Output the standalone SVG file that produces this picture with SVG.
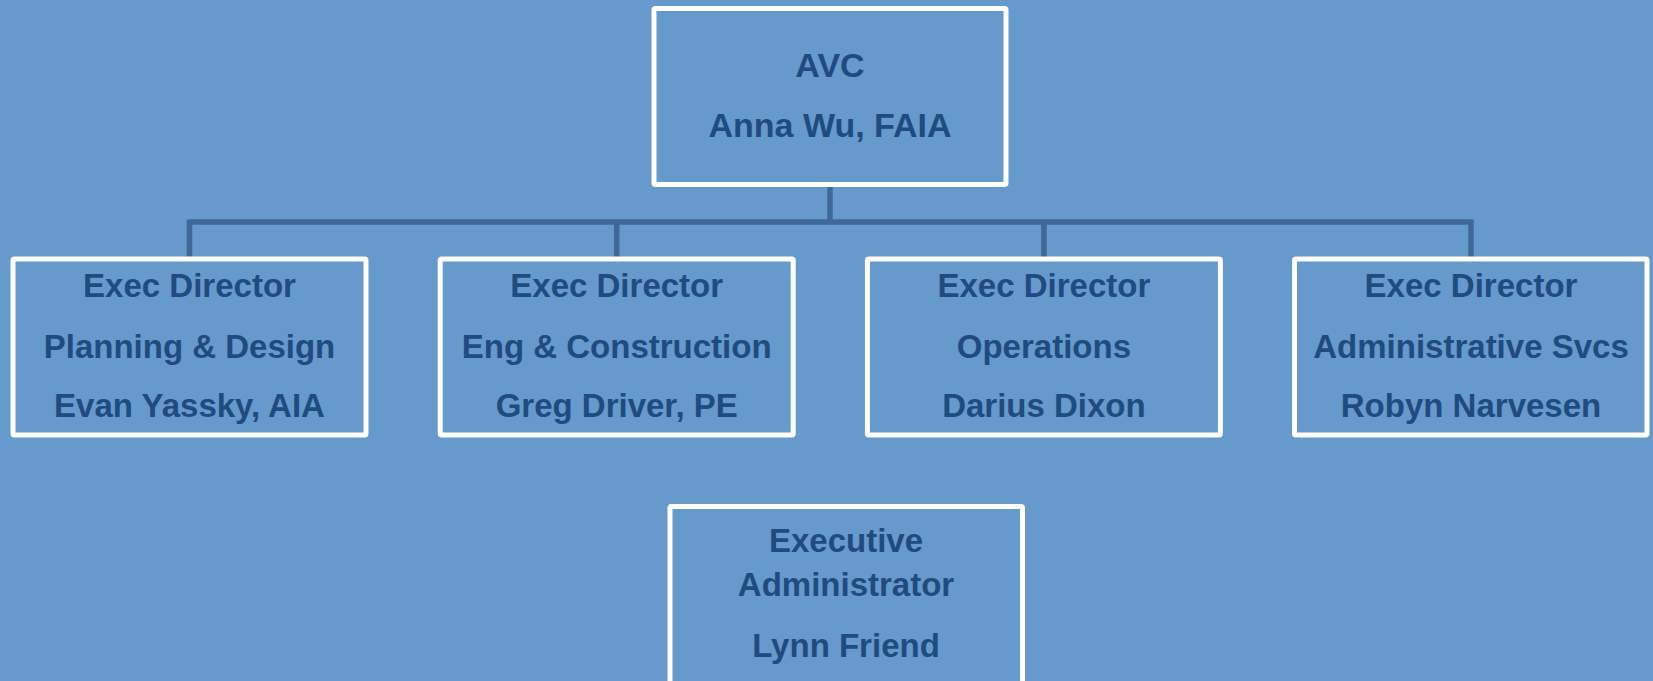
<svg xmlns="http://www.w3.org/2000/svg" width="1653" height="681" viewBox="0 0 1653 681">
<style>
.box{fill:#6699cc;stroke:#ffffff;stroke-width:5;stroke-linejoin:round}
.t{font-family:"Liberation Sans",Arial,sans-serif;font-weight:bold;font-size:33px;fill:#1f4b7f;text-anchor:middle}
.t1{font-size:34px}
.c{stroke:#3f6899;stroke-width:5.5;fill:none}
</style>
<rect x="0" y="0" width="1653" height="681" fill="#6699cc"/>
<g id="connectors">
<path class="c" d="M830 187V222M189.5 222H1471M189.5 219.5V257M616.7 219.5V257M1043.9 219.5V257M1471 219.5V257"/>
</g>
<g id="avc">
<rect class="box" x="654" y="8.5" width="352" height="176" rx="1.5"/>
<text class="t t1" x="830" y="77">AVC</text>
<text class="t t1" x="830" y="137">Anna Wu, FAIA</text>
</g>
<g id="planning">
<rect class="box" x="13" y="259" width="353" height="176" rx="1.5"/>
<text class="t" x="189.5" y="297">Exec Director</text>
<text class="t" x="189.5" y="358">Planning &amp; Design</text>
<text class="t" x="189.5" y="417">Evan Yassky, AIA</text>
</g>
<g id="engineering">
<rect class="box" x="440.2" y="259" width="353" height="176" rx="1.5"/>
<text class="t" x="616.7" y="297">Exec Director</text>
<text class="t" x="616.7" y="358">Eng &amp; Construction</text>
<text class="t" x="616.7" y="417">Greg Driver, PE</text>
</g>
<g id="operations">
<rect class="box" x="867.4" y="259" width="353" height="176" rx="1.5"/>
<text class="t" x="1043.9" y="297">Exec Director</text>
<text class="t" x="1043.9" y="358">Operations</text>
<text class="t" x="1043.9" y="417">Darius Dixon</text>
</g>
<g id="admin">
<rect class="box" x="1294.5" y="259" width="352.5" height="176" rx="1.5"/>
<text class="t" x="1471" y="297">Exec Director</text>
<text class="t" x="1471" y="358">Administrative Svcs</text>
<text class="t" x="1471" y="417">Robyn Narvesen</text>
</g>
<g id="exec-admin">
<rect class="box" x="670" y="506.5" width="352.5" height="180" rx="1.5"/>
<text class="t" x="846" y="552">Executive</text>
<text class="t" x="846" y="596">Administrator</text>
<text class="t" x="846" y="657">Lynn Friend</text>
</g>
</svg>
